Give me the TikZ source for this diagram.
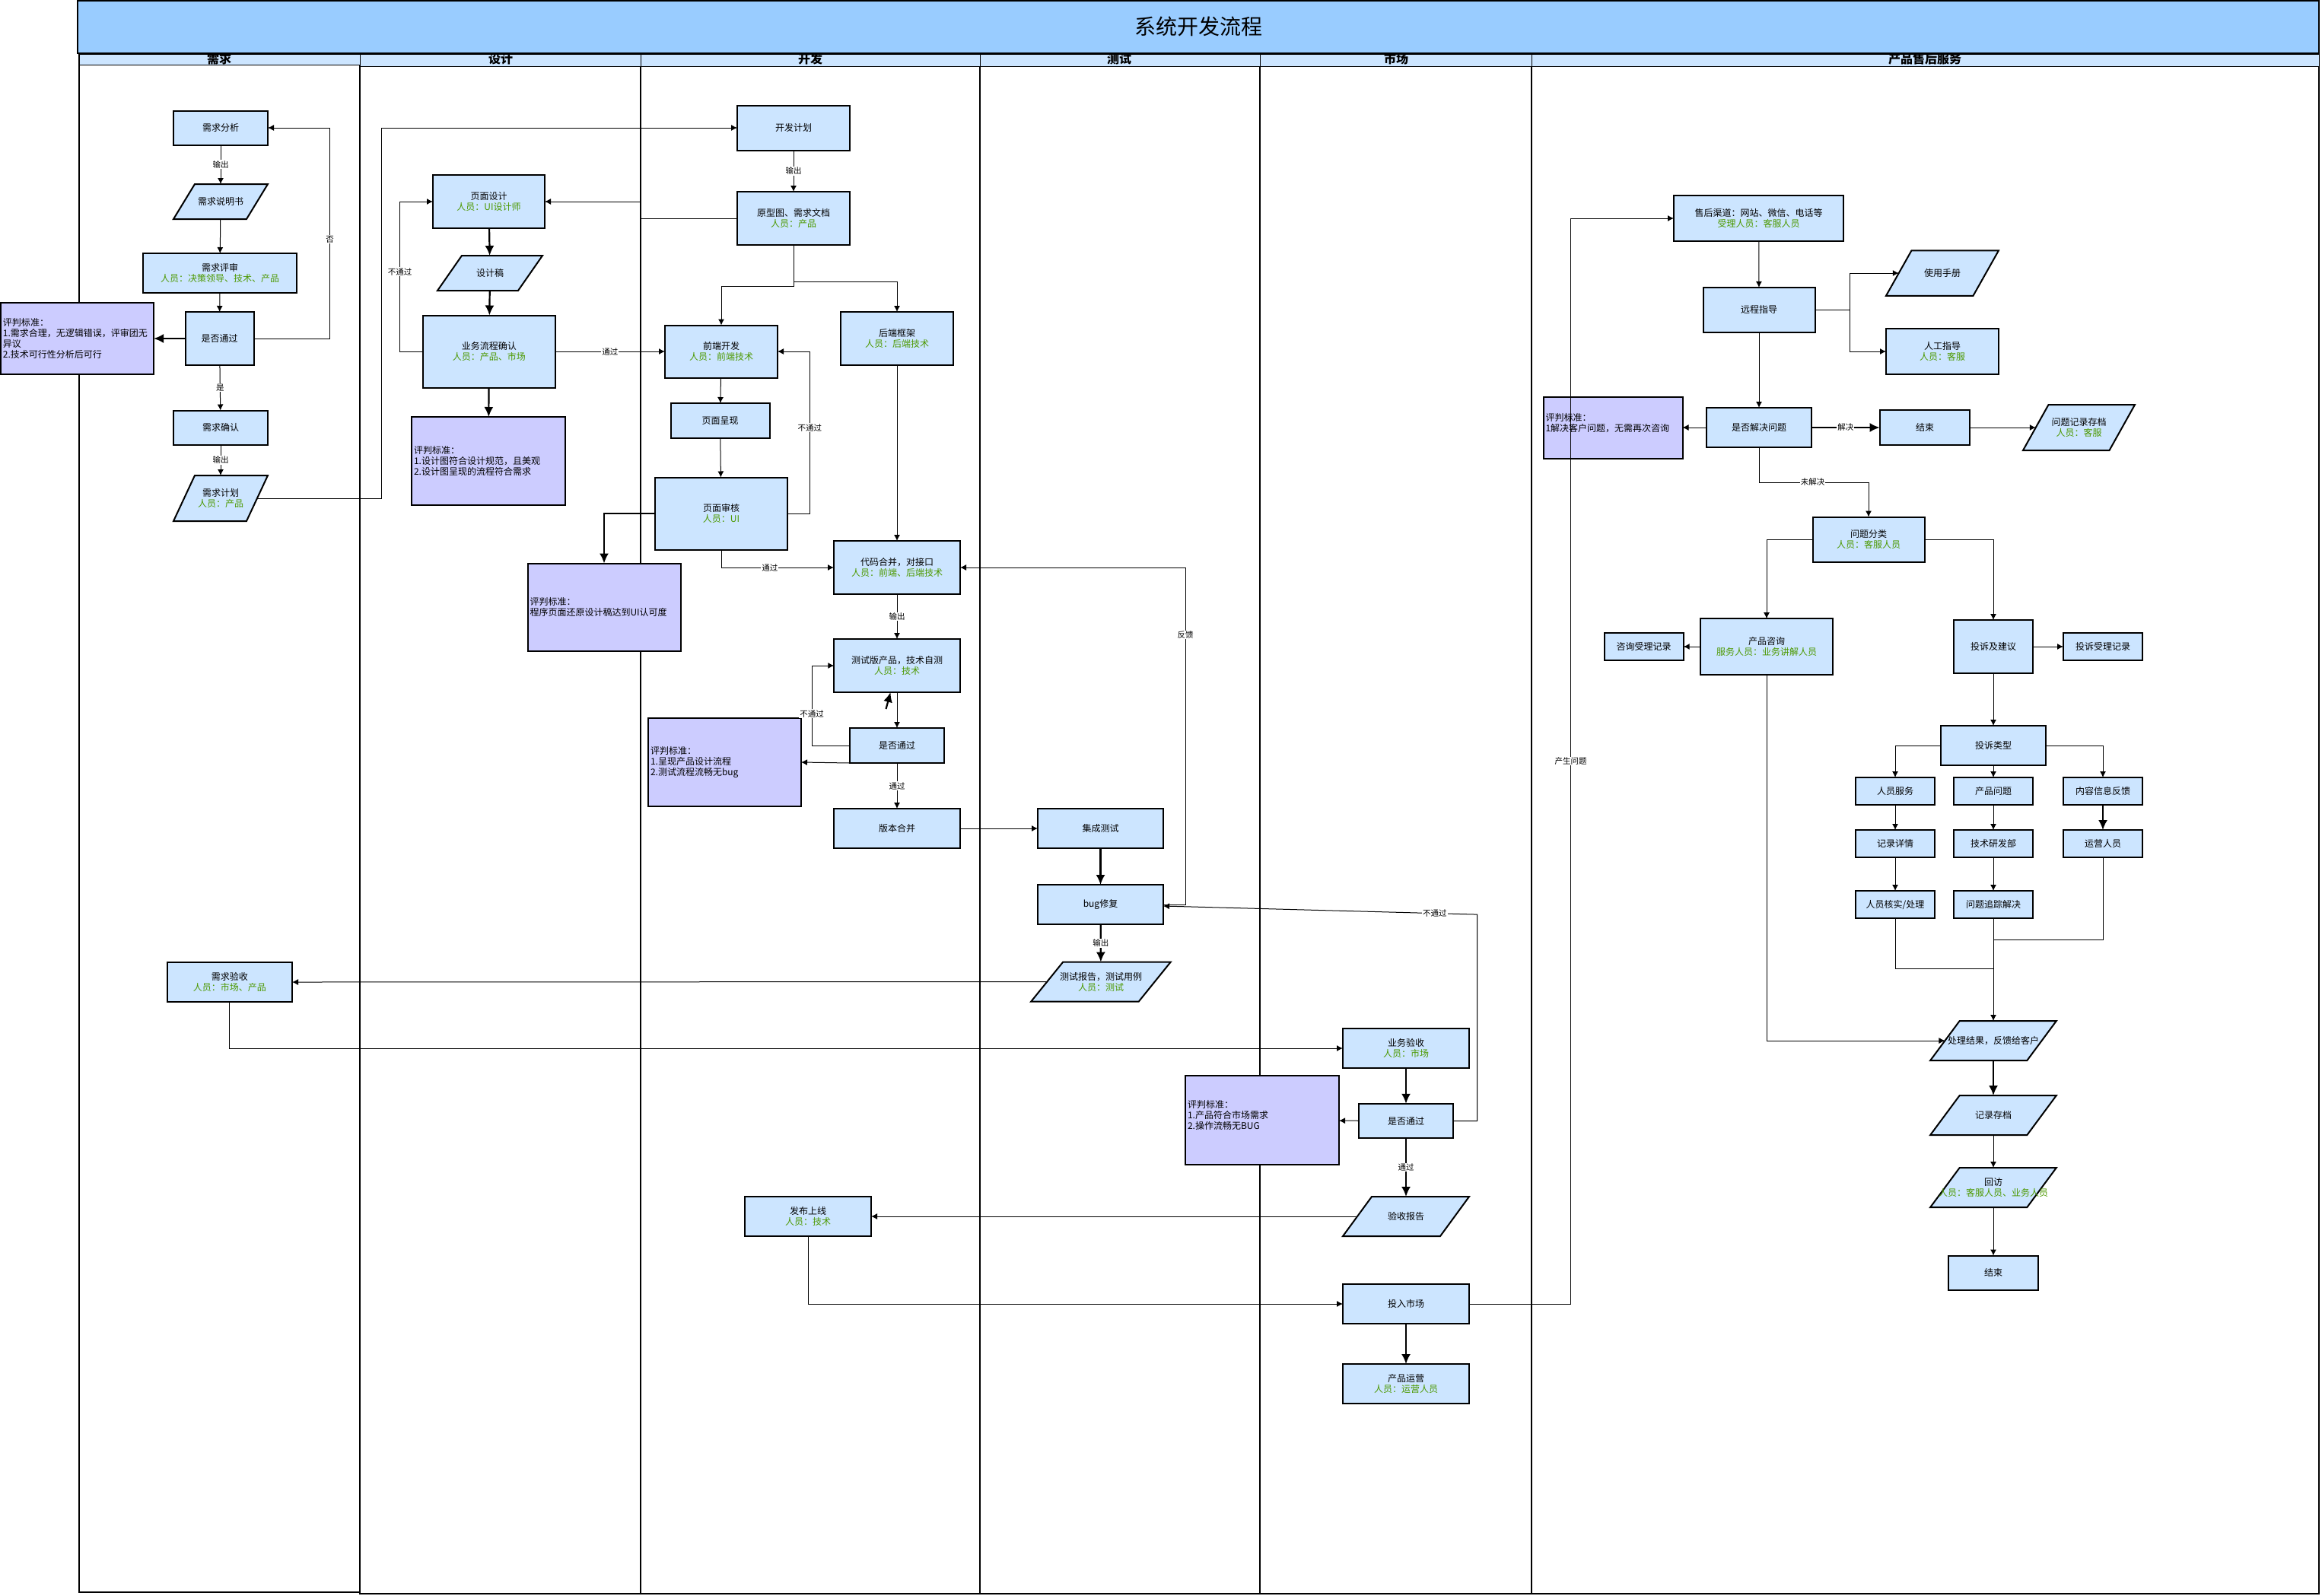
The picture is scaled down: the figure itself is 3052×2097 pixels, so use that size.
\documentclass[tikz,border=0pt]{standalone}
\usepackage{fontspec}
\usetikzlibrary{arrows.meta}
\newfontfamily\cjk{Noto Sans CJK SC}
\definecolor{boxblue}{HTML}{CCE5FF}
\definecolor{titleblue}{HTML}{99CCFF}
\definecolor{critpurple}{HTML}{CCCCFF}
\definecolor{crewgreen}{HTML}{4D9900}
\newcommand{\crew}[1]{{\color{crewgreen}#1}}
\newcommand{\slim}[1]{\makebox[0pt]{#1}}
\newcommand{\parabox}[7]{%
  \draw[parashape] ({#2-#4/2},{#3+#5/2}) -- ++({#4-#6},0) -- ++(#6,-#5) -- ++({#6-#4},0) -- cycle;
  \node[block={#4-#6}{#5},draw=none,fill=none] (#1) at (#2,#3) {#7};}
\tikzset{
  x=1pt,y=-1pt,
  block/.style 2 args={draw,line width=2pt,fill=boxblue,minimum width=#1pt,minimum height=#2pt,
    inner sep=0pt,outer sep=0pt,align=center,font=\cjk\fontsize{12}{14}\selectfont},
  parashape/.style={draw,line width=2pt,fill=boxblue},
  crit/.style 2 args={draw,line width=2pt,fill=critpurple,minimum width=#1pt,minimum height=#2pt,
    text width=#1pt-6pt,inner xsep=3pt,inner ysep=0pt,outer sep=0pt,align=left,
    font=\cjk\fontsize{12}{14}\selectfont},
  lane/.style={draw,line width=1.2pt},
  lanehead/.style={draw,line width=1pt,fill=boxblue},
  lanename/.style={font=\cjk\bfseries\fontsize{16}{16}\selectfont,inner sep=0pt},
  link/.style={-{Latex[length=8pt,width=8pt]},line width=1pt},
  plain/.style={line width=1pt},
  thicklink/.style={-{Latex[length=13pt,width=12pt]},line width=2.2pt},
  lbl/.style={fill=white,inner sep=1pt,font=\cjk\fontsize{10.5}{12}\selectfont},
}
\begin{document}
\begin{tikzpicture}
        \useasboundingbox (0,0) rectangle (3052,2097);
        \fill[white] (0,0) rectangle (3052,2097);
        \draw[lane] (104,71) rectangle (473,2093);
        \draw[lane] (473,71) rectangle (842,2095);
        \draw[lane] (842,71) rectangle (1288,2095);
        \draw[lane] (1288,71) rectangle (1656,2095);
        \draw[lane] (1656,71) rectangle (2013,2095);
        \draw[lane] (2013,71) rectangle (3048,2095);
        \draw[lanehead] (104,71) rectangle (473,85);
        \draw[lanehead] (473,71) rectangle (842,87);
        \draw[lanehead] (842,71) rectangle (1288,87);
        \draw[lanehead] (1288,71) rectangle (1656,87);
        \draw[lanehead] (1656,71) rectangle (2013,87);
        \draw[lanehead] (2013,71) rectangle (3048,87);
        \node[lanename] (laneNeed) at (288,77) {需求};
        \node[lanename] (laneDesign) at (658,77) {设计};
        \node[lanename] (laneDev) at (1065,77) {开发};
        \node[lanename] (laneTest) at (1471,77) {测试};
        \node[lanename] (laneMarket) at (1835,77) {市场};
        \node[lanename] (laneService) at (2530,77) {产品售后服务};
        \node[block={2946}{69},font=\cjk\fontsize{28}{30}\selectfont,fill=titleblue] (title) at (1575,35) {系统开发流程};
        % need
        \node[block={124}{45}] (nAnalysis) at (290,168) {需求分析};
        \parabox{nSpec}{290}{265}{124}{46}{28}{\slim{需求说明书}}
        \node[block={201.5}{52}] (nReview) at (289,359) {需求评审\\\crew{人员：决策领导、技术、产品}};
        \node[block={90}{70}] (nCheck) at (288.5,445) {是否通过};
        \node[crit={201}{94}] (nCrit) at (101.5,445) {评判标准：\\1.需求合理，无逻辑错误，评审团无\\异议\\2.技术可行性分析后可行};
        \node[block={124}{45}] (nConfirm) at (290,562) {需求确认};
        \parabox{nPlan}{290}{655}{124}{60}{28}{\slim{需求计划}\\\slim{\crew{人员：产品}}}
        \node[block={164.5}{52}] (nAccept) at (301.75,1291) {需求验收\\\crew{人员：市场、产品}};
        % design
        \node[block={147}{70}] (dPage) at (642.5,265) {页面设计\\\crew{人员：UI设计师}};
        \parabox{dDraft}{644}{359}{138}{46}{32}{\slim{设计稿}}
        \node[block={173.5}{95}] (dFlow) at (642.75,462) {业务流程确认\\\crew{人员：产品、市场}};
        \node[crit={202}{116}] (dCrit) at (642,606) {评判标准：\\1.设计图符合设计规范，且美观\\2.设计图呈现的流程符合需求};
        % development
        \node[block={148}{59}] (vPlan) at (1043,168) {开发计划};
        \node[block={148}{70}] (vProto) at (1043,287) {原型图、需求文档\\\crew{人员：产品}};
        \node[block={148}{69}] (vFront) at (948,462) {前端开发\\\crew{人员：前端技术}};
        \node[block={148}{70}] (vBack) at (1179,445) {后端框架\\\crew{人员：后端技术}};
        \node[block={130}{46}] (vShow) at (946.5,553) {页面呈现};
        \node[block={173.5}{95}] (vAudit) at (948,675) {页面审核\\\crew{人员：UI}};
        \node[crit={201}{115.5}] (vCrit) at (794,798.3) {评判标准：\\程序页面还原设计稿达到UI认可度};
        \node[block={166}{70}] (vMerge) at (1179,746) {代码合并，对接口\\\crew{人员：前端、后端技术}};
        \node[block={165.5}{70}] (vTest) at (1179,875) {测试版产品，技术自测\\\crew{人员：技术}};
        \node[block={124}{46}] (vCheck) at (1179,980) {是否通过};
        \node[crit={201}{116}] (vTCrit) at (952.5,1002) {评判标准：\\1.呈现产品设计流程\\2.测试流程流畅无bug};
        \node[block={165.5}{52}] (vVersion) at (1179,1089) {版本合并};
        \node[block={166}{52.6}] (vRelease) at (1062,1599) {发布上线\\\crew{人员：技术}};
        % test
        \node[block={165}{52}] (tInteg) at (1446.5,1089) {集成测试};
        \node[block={165}{52}] (tBug) at (1446.5,1189) {bug修复};
        \parabox{tReport}{1447}{1290.5}{183.5}{52}{42}{\slim{测试报告，测试用例}\\\slim{\crew{人员：测试}}}
        % market
        \node[block={166}{52.5}] (mAccept) at (1848,1378) {业务验收\\\crew{人员：市场}};
        \node[block={124}{45.5}] (mCheck) at (1848,1473.5) {是否通过};
        \node[crit={202}{116.6}] (mCrit) at (1659,1472.7) {评判标准：\\1.产品符合市场需求\\2.操作流畅无BUG\\\mbox{}};
        \parabox{mReport}{1848}{1599}{166}{52}{38}{\slim{验收报告}}
        \node[block={166}{52}] (mLaunch) at (1848,1714) {投入市场};
        \node[block={166}{52}] (mOperate) at (1848,1819) {产品运营\\\crew{人员：运营人员}};
        % service
        \node[block={223.4}{59.6}] (sChannel) at (2311.7,287) {售后渠道：网站、微信、电话等\\\crew{受理人员：客服人员}};
        \node[block={147}{59}] (sGuide) at (2312,407.4) {远程指导};
        \parabox{sManual}{2553}{359}{148}{59.5}{33.5}{\slim{使用手册}}
        \node[block={148}{60}] (sHuman) at (2553,462) {人工指导\\\crew{人员：客服}};
        \node[block={137.7}{52}] (sSolved) at (2312,562) {是否解决问题};
        \node[crit={183}{81}] (sCrit) at (2120,562) {评判标准：\\1解决客户问题，无需再次咨询\\\mbox{}};
        \node[block={118.6}{46}] (sEnd) at (2530,562) {结束};
        \parabox{sLog}{2732.5}{562}{147}{60}{33.5}{\slim{问题记录存档}\\\slim{\crew{人员：客服}}}
        \node[block={147}{59}] (sClass) at (2456,709) {问题分类\\\crew{人员：客服人员}};
        \node[block={173.7}{73.7}] (sConsult) at (2322,850) {产品咨询\\\crew{服务人员：业务讲解人员}};
        \node[block={104}{36}] (sConsultLog) at (2160.7,850) {咨询受理记录};
        \node[block={104}{70}] (sComplain) at (2620,850) {投诉及建议};
        \node[block={104}{36}] (sComplainLog) at (2764,850) {投诉受理记录};
        \node[block={138}{52}] (sType) at (2620,980) {投诉类型};
        \node[block={104.5}{36}] (sStaff) at (2491,1040) {人员服务};
        \node[block={104.5}{36}] (sProduct) at (2620,1040) {产品问题};
        \node[block={104.5}{36}] (sContent) at (2764,1040) {内容信息反馈};
        \node[block={104.5}{36}] (sDetail) at (2491,1109) {记录详情};
        \node[block={104.5}{36}] (sTech) at (2620,1109) {技术研发部};
        \node[block={104.5}{36}] (sOps) at (2764,1109) {运营人员};
        \node[block={104.5}{36}] (sVerify) at (2491,1189) {人员核实/处理};
        \node[block={104.5}{36}] (sTrack) at (2620,1189) {问题追踪解决};
        \parabox{sResult}{2620}{1368}{165.7}{52}{38.5}{\slim{处理结果，反馈给客户}}
        \parabox{sArchive}{2620}{1466}{165.7}{52}{38.5}{\slim{记录存档}}
        \parabox{sVisit}{2620}{1561}{165.7}{52}{38.5}{\slim{回访}\\\slim{\crew{人员：客服人员、业务人员}}}
        \node[block={118.4}{45}] (sClose) at (2620,1673) {结束};
        \coordinate (stray) at (1164.5,932);
        \coordinate (joinOps) at (2620,1235);
        \coordinate (joinStaff) at (2620,1273.4);
        % need links
        \draw[link] (nAnalysis) -- node[lbl] {输出} (nSpec);
        \draw[link] (nSpec) -- (nReview);
        \draw[link] (nReview) -- (nCheck);
        \draw[thicklink] (nCheck) -- (nCrit);
        \draw[link] (nCheck.east) -- ++(100,0) |- node[lbl,pos=.235] {否} (nAnalysis.east);
        \draw[link] (nCheck) -- node[lbl] {是} (nConfirm);
        \draw[link] (nConfirm) -- node[lbl] {输出} (nPlan);
        \draw[link] (nPlan.east) -- ++(163,0) |- (vPlan.west);
        % design links
        \draw[link] (vProto.west) -- ++(-127,0) |- (dPage.east);
        \draw[thicklink] (dPage) -- (dDraft);
        \draw[thicklink] (dDraft) -- (dFlow);
        \draw[thicklink] (dFlow) -- (dCrit);
        \draw[link] (dFlow.west) -- ++(-30.5,0) |- node[lbl,pos=.266] {不通过} (dPage.west);
        \draw[link] (dFlow) -- node[lbl] {通过} (vFront);
        % development links
        \draw[link] (vPlan) -- node[lbl] {输出} (vProto);
        \draw[link] (vProto.south) -- ++(0,54.4) -| (vFront.north);
        \draw[link] (vProto.south) -- ++(0,48) -| (vBack.north);
        \draw[link] (vFront) -- (vShow);
        \draw[link] (vShow) -- (vAudit);
        \draw[link] (vAudit.east) -- ++(29.5,0) |- node[lbl,pos=.265] {不通过} (vFront.east);
        \draw[thicklink] (vAudit.west) -| (vCrit.north);
        \draw[link] (vAudit.south) |- node[lbl,pos=.716] {通过} (vMerge.west);
        \draw[link] (vBack) -- (vMerge);
        \draw[link] (vMerge) -- node[lbl] {输出} (vTest);
        \draw[link] (vTest) -- (vCheck);
        \draw[thicklink] (stray) -- ([xshift=-8.5pt]vTest.south);
        \draw[link] (vCheck.west) -- ++(-50,0) |- node[lbl,pos=.2] {不通过} (vTest.west);
        \draw[link] (vCheck.south west) -- (vTCrit.east);
        \draw[link] (vCheck) -- node[lbl] {通过} (vVersion);
        \draw[link] (vVersion) -- (tInteg);
        \draw[link] (vRelease.south) |- (mLaunch.west);
        % test links
        \draw[thicklink] (tInteg) -- (tBug);
        \draw[thicklink] (tBug) -- node[lbl] {输出} (tReport);
        \draw[link] (tBug.east) -- ++(29,0) |- node[lbl,pos=.4] {反馈} (vMerge.east);
        \draw[link] (tReport.west) -- (nAccept.east);
        \draw[link] (nAccept.south) |- (mAccept.west);
        % market links
        \draw[thicklink] (mAccept) -- (mCheck);
        \draw[link] (mCheck) -- (mCrit);
        \draw[thicklink] (mCheck) -- node[lbl] {通过} (mReport);
        \draw[link] (mCheck.east) -- ++(31.6,0) -- ++(0,-271.4) -- node[lbl,pos=.135] {不通过} ([yshift=-2pt]tBug.east);
        \draw[link] (mReport.west) -- (vRelease.east);
        \draw[thicklink] (mLaunch) -- (mOperate);
        \draw[link] (mLaunch.east) -- ++(133.5,0) |- node[lbl,pos=.25] {产生问题} (sChannel.west);
        % service links
        \draw[link] (sChannel) -- (sGuide);
        \draw[link] (sGuide.east) -- ++(46,0) |- (sManual.west);
        \draw[link] (sGuide.east) -- ++(46,0) |- (sHuman.west);
        \draw[link] (sGuide) -- (sSolved);
        \draw[link] (sSolved) -- (sCrit);
        \draw[thicklink] (sSolved) -- node[lbl] {解决} (sEnd);
        \draw[link] (sEnd) -- (sLog.west);
        \draw[link] (sSolved.south) -- ++(0,46) -| node[lbl,pos=.245] {未解决} (sClass.north);
        \draw[link] (sClass.west) -| (sConsult.north);
        \draw[link] (sClass.east) -| (sComplain.north);
        \draw[link] (sConsult) -- (sConsultLog);
        \draw[link] (sComplain) -- (sComplainLog);
        \draw[link] (sComplain) -- (sType);
        \draw[link] (sConsult.south) |- (sResult.west);
        \draw[link] (sType.west) -| (sStaff.north);
        \draw[link] (sType) -- (sProduct);
        \draw[link] (sType.east) -| (sContent.north);
        \draw[link] (sStaff) -- (sDetail);
        \draw[link] (sDetail) -- (sVerify);
        \draw[link] (sProduct) -- (sTech);
        \draw[link] (sTech) -- (sTrack);
        \draw[thicklink] (sContent) -- (sOps);
        \draw[plain] (sOps.south) |- (joinOps);
        \draw[plain] (sVerify.south) |- (joinStaff);
        \draw[link] (sTrack) -- (sResult);
        \draw[thicklink] (sResult) -- (sArchive);
        \draw[link] (sArchive) -- (sVisit);
        \draw[link] (sVisit) -- (sClose);
\end{tikzpicture}
\end{document}
